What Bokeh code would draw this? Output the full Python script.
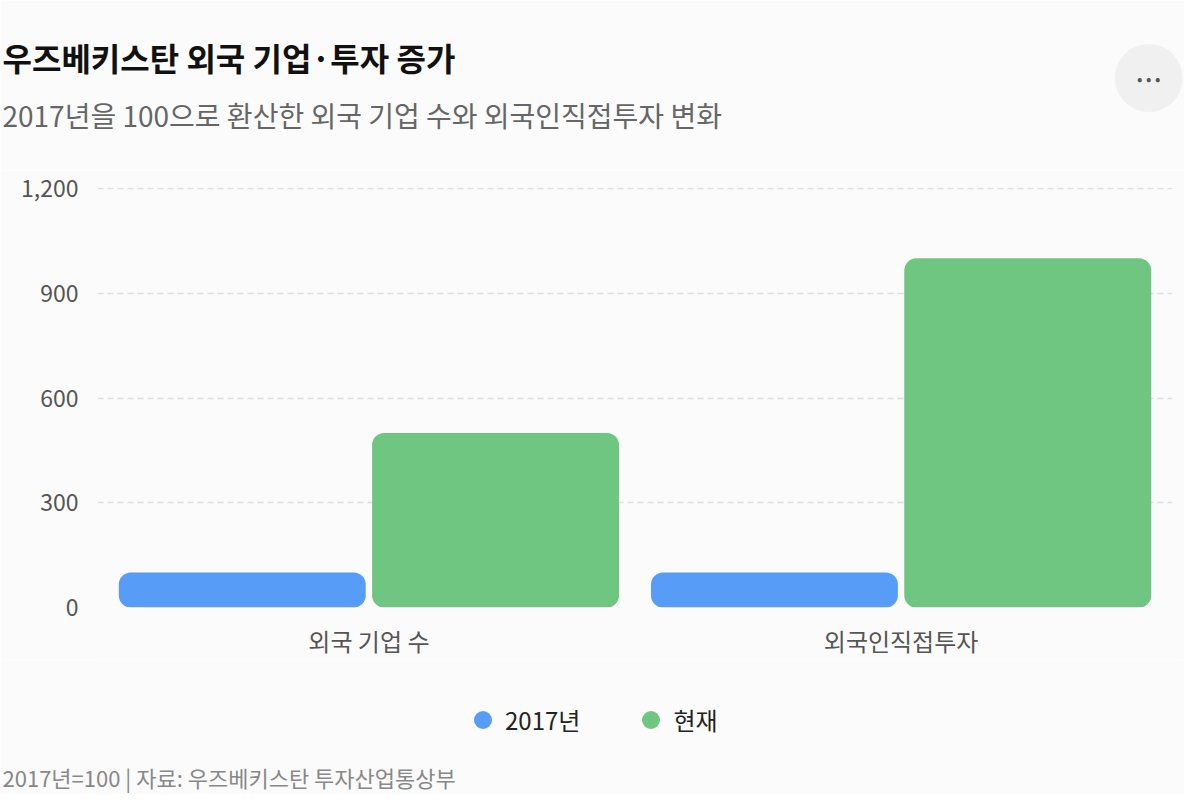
from bokeh.plotting import figure
from bokeh.layouts import column
from bokeh.models import (ColumnDataSource, FactorRange, Range1d, FixedTicker,
                          NumeralTickFormatter, Title, Legend, LegendItem)
from bokeh.transform import dodge
from bokeh.embed import file_html
from bokeh.resources import INLINE

categories = ["외국 기업 수", "외국인직접투자"]
values_2017 = [100, 100]
values_now = [500, 1000]
series_names = ["2017년", "현재"]
series_colors = ["#579cf6", "#6fc681"]
y_ticks = [0, 300, 600, 900, 1200]

title_text = "우즈베키스탄 외국 기업·투자 증가"
subtitle_text = "2017년을 100으로 환산한 외국 기업 수와 외국인직접투자 변화"
footer_text = "2017년=100 | 자료: 우즈베키스탄 투자산업통상부"

FONT = "Noto Sans CJK KR"
BG = "#fbfbfb"
W = 1184


def row_title(text, size, height, k=1.28, extra=0, **kw):
    # a Title used as one text row; standoff is chosen so the row gets `height` px
    est = k * size + extra
    kw.setdefault("text_font_style", "normal")
    return Title(text=text, text_font=FONT, text_font_size=f"{size}px",
                 vertical_align="middle", standoff=height - 2 - est, **kw)


def text_figure(height):
    f = figure(width=W, height=height, x_range=Range1d(0, 1), y_range=Range1d(0, 1),
               x_axis_location=None, y_axis_location=None,
               output_backend="svg", toolbar_location=None, min_border=0)
    f.grid.visible = False
    f.outline_line_color = None
    f.background_fill_color = BG
    f.border_fill_color = BG
    return f


# header: rows stacked upwards from the (empty) frame
header = text_figure(170)
header.add_layout(row_title(subtitle_text, 28, 78, k=1.59, align="left", offset=-95,
                            text_color="#666666"), "above")
header.add_layout(row_title("• • •", 16, 0, extra=44 + 3, align="right", offset=-10,
                            text_color="#555555", background_fill_color="#f0f0f0",
                            border_radius=34, padding=22), "above")
header.add_layout(row_title(title_text, 32, 37, align="left", offset=-95,
                            text_color="#111111", text_font_style="bold"), "above")
header.add_layout(row_title(" ", 10, 33), "above")

# main chart
source = ColumnDataSource(dict(cat=categories, base=values_2017, now=values_now))

p = figure(x_range=FactorRange(*categories, range_padding=0.01, range_padding_units="absolute"),
           y_range=Range1d(0, 1203), width=W, height=490,
           output_backend="svg", toolbar_location=None,
           min_border_left=97, min_border_right=12, min_border_top=17, min_border_bottom=47)
p.background_fill_color = BG
p.border_fill_color = BG
p.outline_line_color = None

p.vbar(x=dodge("cat", -0.238, range=p.x_range), top="base", width=0.464, source=source,
       fill_color=series_colors[0], line_color=None, border_radius=12)
p.vbar(x=dodge("cat", 0.238, range=p.x_range), top="now", width=0.464, source=source,
       fill_color=series_colors[1], line_color=None, border_radius=12)

p.yaxis.ticker = FixedTicker(ticks=y_ticks)
p.yaxis.formatter = NumeralTickFormatter(format="0,0")
for ax in (p.xaxis[0], p.yaxis[0]):
    ax.axis_line_color = None
    ax.major_tick_line_color = None
    ax.minor_tick_line_color = None
    ax.major_label_text_font = FONT
    ax.major_label_text_color = "#555555"
p.yaxis.major_label_text_font_size = "23px"
p.yaxis.major_label_standoff = 13
p.xaxis.major_label_text_font_size = "24px"
p.xaxis.major_label_standoff = 9

p.xgrid.grid_line_color = None
p.ygrid.grid_line_color = "#dddddd"
p.ygrid.grid_line_width = 1.5
p.ygrid.grid_line_dash = "6 4"

# footer: legend and source note
footer = text_figure(134)
# legend keys only; their single point sits outside the visible range
d1 = footer.scatter(x=[0.5], y=[-1], marker="circle", fill_color=series_colors[0], line_color=None)
d2 = footer.scatter(x=[0.5], y=[-1], marker="circle", fill_color=series_colors[1], line_color=None)
legend = Legend(items=[LegendItem(label=series_names[0], renderers=[d1]),
                       LegendItem(label=series_names[1], renderers=[d2])],
                orientation="horizontal", location=(363, 17),
                glyph_width=45, glyph_height=45, label_standoff=-3, spacing=48,
                padding=0, margin=0, border_line_color=None, background_fill_alpha=0,
                label_text_font=FONT, label_text_font_size="24px", label_text_color="#222222")
footer.add_layout(legend)
footer.add_layout(row_title(footer_text, 22, 38, k=1.59, align="left", offset=-95,
                            text_color="#888888"), "below")

layout = column(header, p, footer, spacing=0)
open("out.html", "w").write(file_html(layout, INLINE))
